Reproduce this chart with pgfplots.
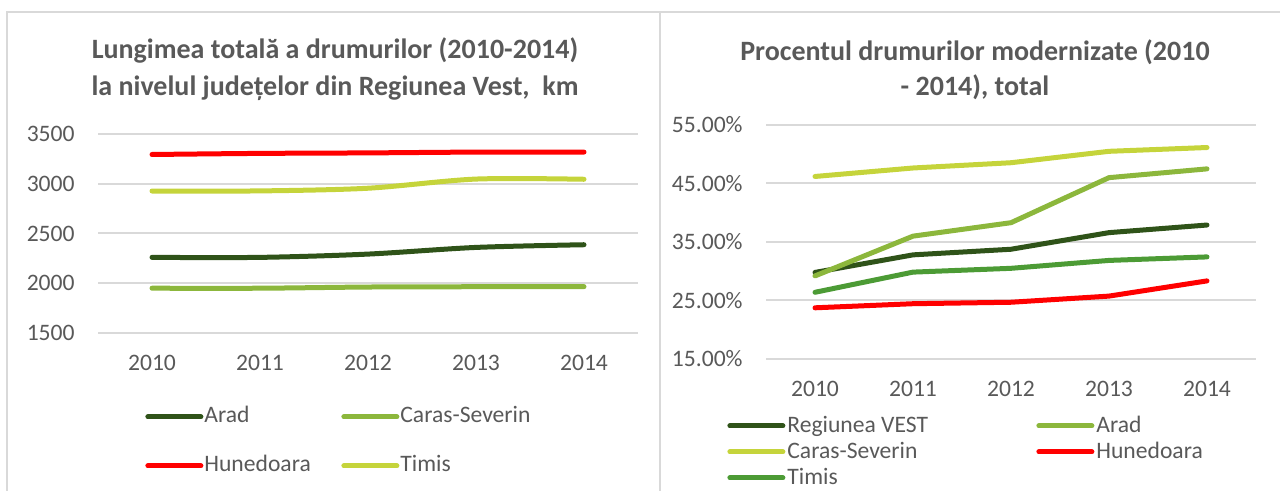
\documentclass[border=0pt]{standalone}
\usepackage{fontspec}
\setmainfont{Carlito}
\usepackage{pgfplots}
\pgfplotsset{compat=1.18}

\definecolor{dkgreen}{HTML}{2F5319}
\definecolor{ltgreen}{HTML}{8CB73C}
\definecolor{ygreen}{HTML}{C5D43B}
\definecolor{mdgreen}{HTML}{4C9B35}
\definecolor{xlred}{HTML}{FF0000}
\definecolor{txt}{HTML}{595959}
\definecolor{gridc}{HTML}{D9D9D9}

\pgfplotsset{
  xls/.style={
    scale only axis,
    xmin=-0.5, xmax=4.5,
    xtick={0,1,2,3,4},
    xticklabels={2010,2011,2012,2013,2014},
    axis line style={draw=none},
    major tick length=0pt,
    ymajorgrids, grid style={gridc, line width=1pt},
    tick label style={font=\fontsize{11.8}{14}\selectfont, text=txt},
    /pgf/number format/assume math mode=true,
    /pgf/number format/1000 sep={},
    xticklabel style={anchor=north, inner sep=0pt, yshift=-10.75pt},
    yticklabel style={anchor=east, inner sep=0pt, xshift=-11.5pt},
    legend cell align=left,
    legend image code/.code={\draw[#1, line cap=round] (0pt,0pt) -- (26.5pt,0pt);},
    legend style={draw=none, fill=none, font=\fontsize{11.8}{14}\selectfont, text=txt,
      inner sep=0pt, nodes={inner sep=0pt, text height=7.5pt, text depth=2pt}},
  },
  ser/.style={line width=2.5pt, line cap=round, line join=round, no markers},
}

\begin{document}
\begin{tikzpicture}
\path[use as bounding box] (0pt,0pt) rectangle (640pt,245.5pt);
\draw[gridc, line width=1pt] (3.5pt,0pt) -- (3.5pt,239.5pt) -- (640pt,239.5pt);
\draw[gridc, line width=1pt] (330pt,0pt) -- (330pt,239.5pt);

\node[text=txt, font=\fontsize{14}{16}\selectfont\bfseries] at (167.5pt,220.5pt) {Lungimea totală a drumurilor (2010-2014)};
\node[text=txt, font=\fontsize{14}{16}\selectfont\bfseries] at (167.5pt,201.5pt) {la nivelul județelor din Regiunea Vest,\ \ km};
\node[text=txt, font=\fontsize{14}{16}\selectfont\bfseries] at (487.5pt,219.5pt) {Procentul drumurilor modernizate (2010};
\node[text=txt, font=\fontsize{14}{16}\selectfont\bfseries] at (487.5pt,202pt) {- 2014), total};

% left: lungimea totala, km
\begin{axis}[xls,
  at={(49pt,79pt)}, anchor=south west,
  width=270pt, height=99.5pt,
  ymin=1500, ymax=3500, ytick={1500,2000,2500,3000,3500},
  legend columns=2,
  legend style={at={(0.087,-0.372)}, anchor=north west,
    /tikz/every odd column/.style={column sep=0.5pt},
    /tikz/row sep=15pt},
]
\addplot[ser, smooth, dkgreen] coordinates {(0,2260) (1,2260) (2,2293) (3,2360) (4,2387)};
\addlegendentry{\makebox[68.5pt][l]{Arad}}
\addplot[ser, smooth, ltgreen] coordinates {(0,1950) (1,1950) (2,1962) (3,1965) (4,1966)};
\addlegendentry{Caras-Severin}
\addplot[ser, smooth, xlred] coordinates {(0,3294) (1,3305) (2,3310) (3,3318) (4,3318)};
\addlegendentry{\makebox[68.5pt][l]{Hunedoara}}
\addplot[ser, smooth, ygreen] coordinates {(0,2927) (1,2928) (2,2955) (3,3047) (4,3045)};
\addlegendentry{Timis}
\end{axis}

% right: procentul drumurilor modernizate
\begin{axis}[xls,
  at={(383pt,66pt)}, anchor=south west,
  width=245pt, height=117pt,
  ymin=15, ymax=55, ytick={15,25,35,45,55},
  yticklabel={\pgfmathprintnumber[fixed,fixed zerofill,precision=2]{\tick}\%},
  legend columns=2,
  legend style={at={(-0.0796,-0.250)}, anchor=north west,
    nodes={text depth=0.5pt},
    /tikz/every odd column/.style={column sep=1pt},
    /tikz/row sep=5pt},
]
\addplot[ser, dkgreen] coordinates {(0,29.8) (1,32.8) (2,33.76) (3,36.6) (4,37.9)};
\addlegendentry{\makebox[124.5pt][l]{Regiunea VEST}}
\addplot[ser, ltgreen] coordinates {(0,29.2) (1,36.0) (2,38.3) (3,46.0) (4,47.5)};
\addlegendentry{Arad}
\addplot[ser, ygreen] coordinates {(0,46.2) (1,47.65) (2,48.55) (3,50.5) (4,51.15)};
\addlegendentry{\makebox[124.5pt][l]{Caras-Severin}}
\addplot[ser, xlred] coordinates {(0,23.75) (1,24.45) (2,24.7) (3,25.75) (4,28.35)};
\addlegendentry{Hunedoara}
\addplot[ser, mdgreen] coordinates {(0,26.4) (1,29.85) (2,30.5) (3,31.85) (4,32.45)};
\addlegendentry{Timis}
\end{axis}
\end{tikzpicture}
\end{document}
